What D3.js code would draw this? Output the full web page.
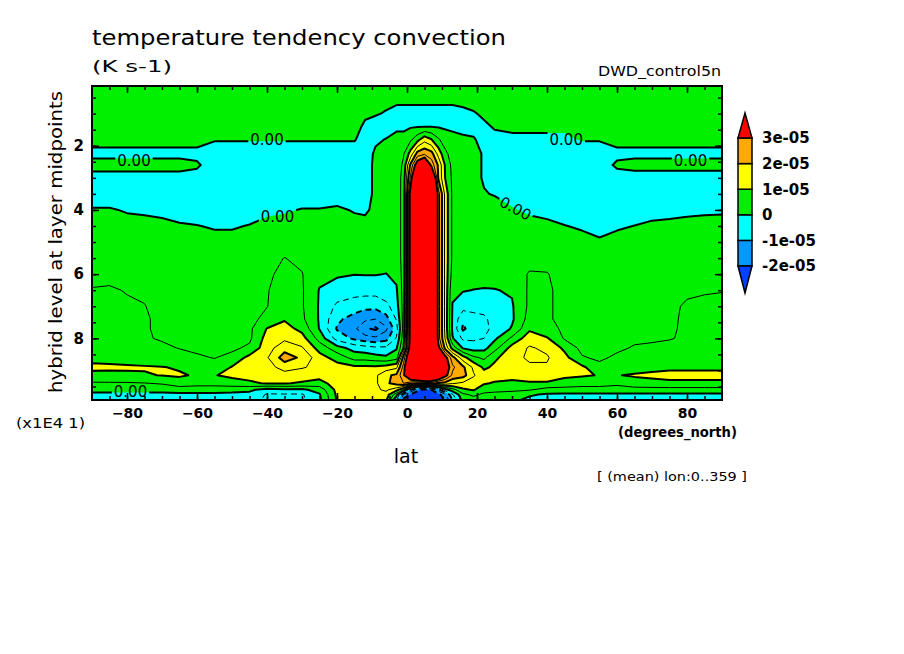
<!DOCTYPE html>
<html lang="en">
<head>
<meta charset="UTF-8">
<title>temperature tendency convection</title>
<script src="https://d3js.org/d3.v7.min.js"></script>
<style>
  body { margin: 0; background: #fff; }
  text { font-family: "DejaVu Sans", sans-serif; fill: #000; }
</style>
</head>
<body>
<svg width="904" height="654"></svg>
<script>

// grid, values in 1e-6 K s-1
const lats = [-90, -85, -80, -75, -70, -65, -60, -55, -50, -45, -40, -35, -30, -25, -20,
              -15, -12, -9, -6, -3, -1, 1, 3, 5, 7, 9, 11, 13, 16, 19,
              22, 25, 30, 35, 40, 45, 50, 55, 60, 65, 70, 75, 80, 85, 90];
const levels = [0.14, 0.6, 1.0, 1.4, 1.8, 2.25, 2.6, 3.0, 3.5, 4.0, 4.5, 5.0, 5.5, 6.0,
                6.5, 7.0, 7.4, 7.7, 8.0, 8.3, 8.6, 8.9, 9.15, 9.4, 9.6, 9.75, 9.92];

const tendency = [
  [2,2,2,2,2, 2,2,2,2,2, 2,2,2,2,2, 2,2,2,2,2, 2,2,2,2,2, 2,2,2,2,2, 2,2,2,2,2, 2,2,2,2,2, 2,2,2,2,2],
  [2,2,2,2,2, 2,2,2,2,2, 2,2,2,2,2, 2,2,2,1.5,1, 1,1,1,1,1, 1,1,1,1.5,2, 2,2,2,2,2, 2,2,2,2,2, 2,2,2,2,2],
  [2,2,2,2,2, 2,2,2,2,2, 2,2,2,2,2, 2,1,0.5,-0.5,-2, -2,-2,-2,-2,-2, -2,-2,-2,-1.5,-0.5, 1,2,2,2,2, 2,2,2,2,2, 2,2,2,2,2],
  [2,2,2,2,2, 2,2,2,2,2, 2,2,2,2,2, 2,-1,-2.5,-3,-1, -1,-0.5,-0.3,-0.2,-0.3, -0.5,-0.8,-1,-1.5,-2, -1,0.5,1,1,1, 1,2,2,2,2, 2,2,2,2,2],
  [2,2,2,2,2, 2,2,0.5,0.5,0.5, 0.5,0.5,0.5,0.5,0.5, 0.5,-3,-1,0.2,1.5, 1.5,4,8,13,10, 5.5,2.5,1.5,0.8,0.5, -2,-1.5,-1,-1,-1, -1,0.5,0.5,2,2, 2,2,2,2,2],
  [-1.5,-1.5,-1.5,-1.5,-1.5, -1.5,-1.5,-3,-3,-3, -3,-3,-3,-3,-3, -3,-3,1,2,2, 4.5,12,22,24,22, 13,6,3,2,1.5, -0.5,-3,-3,-3,-3, -3,-3,-3,-1.5,-1.5, -1.5,-1.5,-1.5,-1.5,-1.5],
  [2,2,2,2,2, 2,0.8,-3,-3,-3, -3,-3,-3,-3,-3, -3,-3,1.5,2,2, 6,21,35,42,28, 19,9,3.5,2,1.5, -0.5,-3,-3,-3,-3, -3,-3,-3,1,2, 2,2,2,2,2],
  [-2,-2,-2,-2,-2, -2,-2,-3,-3,-3, -3,-3,-3,-3,-3, -3,-3,1.5,2,2, 7,26,50,60,45, 19,9.5,4,2,1.5, -0.5,-3,-3,-3,-3, -3,-3,-3,-2.5,-2.5, -2.5,-2.5,-2.5,-2.5,-2.5],
  [-3,-3,-3,-3,-3, -3,-3,-3,-3,-3, -3,-3,-3,-3,-3, -3,-3,1.5,2,2, 7,33,60,70,55, 27,13,4,2,1.5, 0.3,-0.3,-2,-3,-3, -3,-3,-3,-3,-3, -3,-3,-3,-3,-3],
  [0.5,0.5,-0.5,-1,-2, -2,-3,-3,-3,-3, -1.5,-0.6,0.3,0.3,1, -0.5,-1,1.5,2,2, 7,33,60,70,55, 27,13,4,2,2, 2,2,0.5,-1,-2, -3,-3,-3,-3,-3, -2,-2,-1.5,-1,-0.8],
  [2,2,2,2,2, 0.5,0.2,-0.6,-0.6,0.3, 2,2,2,2,2, 2,2,2,2,2, 7,33,60,72,55, 27,13,4,2,2, 2,2,2,2,1.5, 0.2,-0.8,-2,-0.8,0.1, 1,1.5,2,2,2],
  [2,2,2,2,2, 2,2,2,2,2, 2,2,2,2,2, 2,2,2,2,2, 7,33,60,72,55, 27,13,4,2,2, 2,2,2,2,2, 2,2,0.8,2,2, 2,2,2,2,2],
  [3,3,3,3,3, 2.5,2.5,2.5,2.5,3, 3.5,5.1,4,2,1.5, 1.5,1.5,1.5,2,2, 7,33,60,72,55, 27,13,4,2.5,2.5, 2.5,2.5,2.5,3,3.5, 3,3,3,3,3, 3,3.5,3.5,3.5,3.5],
  [4,4,4,3.5,3.5, 3,3,3,3,3.5, 4,6.5,5.2,1.5,0.6, 0.1,0.2,0.2,-0.1,1, 7,33,60,72,55, 27,13,3,2,2, 2,2,2,5.5,5.2, 3.5,3,3,3,3.5, 3.5,4,4,4,4],
  [5.2,5.4,4.8,4.5,4, 3.5,3.5,3,3,4, 4.8,6.5,5.5,-0.3,-2, -3,-3,-3,-1.5,-0.5, 7,33,60,72,55, 27,13,1,0.3,-0.1, -0.3,-0.2,0.5,5.8,5.5, 4,3.5,3.5,3.5,4, 4,4.3,4.6,4.8,4.9],
  [6,6,5.5,5.1,4, 3.5,3.5,3.5,3.5,4, 4.9,7,5.5,-0.5,-6, -7.5,-8.5,-8.5,-6.5,-2, 7,33,60,72,55, 27,13,-0.3,-3,-4, -4,-3,-0.5,6,5.5, 4,3.5,3.5,3.5,4, 4,4.5,5.3,5.5,5.6],
  [6.5,6.5,6,5.5,4, 3.5,3.5,3.5,3.5,4, 6,9.5,6,-0.5,-9, -12,-14,-15,-12,-4.5, 7,33,60,72,55, 27,13,-0.8,-9,-6, -5.5,-4,-0.8,7,5.5, 4,3.5,3.5,3.5,4, 4,4.5,5.5,5.5,5.8],
  [7,7,6.5,5.5,4, 4,3.5,3.5,3.5,4, 10.2,12,8.5,-0.3,-10.5, -14,-19,-21,-16,-7, 7,33,60,72,55, 27,13,-1,-11,-7, -6,-4,0.5,9,6, 4.5,3.5,3.5,3.5,4, 4,4.6,5.5,5.5,6],
  [7,7,6.5,5.5,4.5, 4,4,4,4,4, 12,14,12,3,-7, -11,-13,-14,-12,-4.5, 8,33,60,72,55, 27,14,0.5,-6,-6, -5,-1,6,13,10.5, 4.5,3.5,3.5,3.5,4, 4.2,4.8,5.5,6,6],
  [7.5,7.5,7,6.5,6, 4.8,4,4,4,6, 13,18,15.5,8,2, -2,-3,-4,-4,-0.5, 10,35,62,74,58, 32,18,8,-0.5,-2, -1.5,3,12,15.5,14, 9,3.5,3.5,4,5.5, 6,6,6.5,6.5,6.5],
  [8,8,7.5,7,6.5, 7,5.7,4.8,6.5,11.5, 14.5,22.5,19,12,8, 3,3,2,1,3, 22,40,70,75,65, 45,32,22,12,6, 4,9,13,16,15.5, 11.5,5.5,4,6,7, 7,7,7,7,7],
  [11.5,11,10.8,10.5,10.2, 9.5,8,7,10.3,12, 13,17,15.5,13.5,12, 11,11,11,12,14, 27,45,65,70,60, 50,35,26,21,14, 9,11,13,14,14.5, 12,11,6.5,8,8, 8.5,9,9,9,9],
  [8,8.5,9,9.5,10.2, 10.5,9.5,9.8,11,12, 12,13,12,12,13, 13,14,14,19,21, 29,40,50,55,50, 42,32,24,22,15.5, 12,12,11.5,12,12, 11,10.5,9.8,9.8,10.5, 11,11.5,11.5,11.5,11.5],
  [4.5,4.5,4.5,4.8,5.5, 8,7,7,8,9, 10.5,10.3,9.5,8,12.5, 13,14,14,19,22, 25,22,19.5,22,22, 19,18,15.5,14,13, 10.5,9.5,9,9.5,9.5, 8,7,7,6,8, 8.5,9,9,9,9],
  [1.5,1.5,1.5,1.5,1.5, 2,2,2,1.5,1, -2,-1,-1,2,11.5, 12.5,13,14,16,12, 5,-10,-18,-22,-19.5, -12,-2,3,9,10.5, 7,6,6,5.5,3, 3,3,3,3,3, 3,3,3,3,3],
  [-1,-1,-1,-1,-1, -1,-1,-1,-1,-1.5, -5.5,-5.5,-5.5,-0.5,11, 12,12,12,13,2, -15,-20.5,-25,-28,-25, -22,-15.5,-5.5,4,6, 4,4,3,0.5,-0.5, -0.8,-0.8,-0.8,-0.8,-0.8, -0.8,-0.8,-0.8,-0.8,-0.8],
  [-3,-3,-3,-3,-3, -3,-3,-3,-3,-3, -6,-6,-6,-1,10.5, 11,11,11,11,-5, -22,-25,-30,-30,-28, -25,-19,-10,2,3, 2,2,1,-1,-1.5, -2,-2,-2,-2,-2, -2,-2,-2,-2,-2]
];

const fillLevels = [-20, -10, 0, 10, 20, 30];
const fillColors = ["#0040ff", "#0099ff", "#00ffff", "#00f000", "#ffff00", "#ffaa00", "#ff0000"];
const lineLevels = [-20, -15, -10, -5, 0, 5, 10, 15, 20, 25, 30];
const barLabels = ["-2e-05", "-1e-05", "0", "1e-05", "2e-05", "3e-05"];
const latTicks = [-80, -60, -40, -20, 0, 20, 40, 60, 80];
const levTicks = [2, 4, 6, 8];
// [lat, level, text, angle]
const lineLabels = [
  [-40, 1.8, "0.00", 0],
  [-78, 2.45, "0.00", 0],
  [-37, 4.2, "0.00", 0],
  [45.5, 1.8, "0.00", 0],
  [81, 2.45, "0.00", 0],
  [31, 3.95, "0.00", 28],
  [-79, 9.67, "0.00", 0]
];

const svg = d3.select("svg");
const x = d3.scaleLinear().domain([-90, 90]).range([92, 722]);
const y = d3.scaleLinear().domain([0.14, 9.92]).range([86, 400]);

const nx = lats.length, ny = levels.length;
const colLat = d3.scaleLinear().domain(d3.range(nx)).range(lats).clamp(true);
const rowLev = d3.scaleLinear().domain(d3.range(ny)).range(levels).clamp(true);
const values = tendency.flat();

// contour grid coords -> screen
const toScreen = d3.geoTransform({
  point(gx, gy) { this.stream.point(x(colLat(gx - 0.5)), y(rowLev(gy - 0.5))); }
});
const path = d3.geoPath(toScreen);
const contours = d3.contours().size([nx, ny]);

const defs = svg.append("defs");
defs.append("clipPath").attr("id", "plot-clip")
  .append("rect")
  .attr("x", x(-90)).attr("y", y(0.14))
  .attr("width", x(90) - x(-90)).attr("height", y(9.92) - y(0.14));
const mask = defs.append("mask").attr("id", "label-gaps")
  .attr("maskUnits", "userSpaceOnUse")
  .attr("x", 0).attr("y", 0).attr("width", 904).attr("height", 654);
mask.append("rect").attr("width", 904).attr("height", 654).attr("fill", "#fff");

const plot = svg.append("g").attr("clip-path", "url(#plot-clip)");
plot.append("rect")
  .attr("x", x(-90)).attr("y", y(0.14))
  .attr("width", x(90) - x(-90)).attr("height", y(9.92) - y(0.14))
  .attr("fill", fillColors[0]);

plot.selectAll("path.band")
  .data(fillLevels)
  .join("path")
  .attr("class", "band")
  .attr("d", t => path(contours.contour(values, t)))
  .attr("fill", (t, i) => fillColors[i + 1]);

plot.append("g")
  .attr("mask", "url(#label-gaps)")
  .selectAll("path")
  .data(lineLevels)
  .join("path")
  .attr("d", t => path(contours.contour(values, t)))
  .attr("fill", "none")
  .attr("stroke", "#000")
  .attr("stroke-width", t => t % 10 === 0 ? 2 : 1)
  .attr("stroke-dasharray", t => t < 0 ? "6,4" : null)
  .attr("stroke-linejoin", "round");

// contour labels, with a gap cut in the lines
const labels = plot.append("g")
  .selectAll("text")
  .data(lineLabels)
  .join("text")
  .attr("transform", d => `translate(${x(d[0])},${y(d[1])}) rotate(${d[3]})`)
  .attr("text-anchor", "middle")
  .attr("dy", "0.36em")
  .attr("font-size", 15)
  .text(d => d[2]);

labels.each(function(d) {
  const b = this.getBBox();
  mask.append("rect")
    .attr("transform", `translate(${x(d[0])},${y(d[1])}) rotate(${d[3]})`)
    .attr("x", b.x - 2).attr("y", b.y + 1)
    .attr("width", b.width + 4).attr("height", b.height - 2)
    .attr("fill", "#000");
});

// axes, ticks pointing inward on all sides
function styleAxis(g, size) {
  g.select(".domain").remove();
  g.selectAll(".tick line").attr("stroke", "#000").attr("stroke-width", 1.5);
  g.attr("font-family", "DejaVu Sans").attr("font-size", size).attr("font-weight", "bold");
}
const minorLat = d3.range(-85, 90, 5);
const minorLev = d3.range(0.5, 10, 0.5);

svg.append("g").attr("transform", "translate(0,400)")
  .call(d3.axisBottom(x).tickValues(latTicks).tickSize(-7).tickPadding(8))
  .call(g => styleAxis(g, 14));
svg.append("g").attr("transform", "translate(0,400)")
  .call(d3.axisBottom(x).tickValues(minorLat).tickSize(-4).tickFormat(""))
  .call(g => styleAxis(g, 14));
svg.append("g").attr("transform", "translate(0,86)")
  .call(d3.axisTop(x).tickValues(latTicks).tickSize(-7).tickFormat(""))
  .call(g => styleAxis(g, 14));
svg.append("g").attr("transform", "translate(0,86)")
  .call(d3.axisTop(x).tickValues(minorLat).tickSize(-4).tickFormat(""))
  .call(g => styleAxis(g, 14));

svg.append("g").attr("transform", "translate(92,0)")
  .call(d3.axisLeft(y).tickValues(levTicks).tickSize(-7).tickPadding(8))
  .call(g => styleAxis(g, 15));
svg.append("g").attr("transform", "translate(92,0)")
  .call(d3.axisLeft(y).tickValues(minorLev).tickSize(-4).tickFormat(""))
  .call(g => styleAxis(g, 15));
svg.append("g").attr("transform", "translate(722,0)")
  .call(d3.axisRight(y).tickValues(levTicks).tickSize(-7).tickFormat(""))
  .call(g => styleAxis(g, 15));
svg.append("g").attr("transform", "translate(722,0)")
  .call(d3.axisRight(y).tickValues(minorLev).tickSize(-4).tickFormat(""))
  .call(g => styleAxis(g, 15));

svg.append("rect")
  .attr("x", x(-90)).attr("y", y(0.14))
  .attr("width", x(90) - x(-90)).attr("height", y(9.92) - y(0.14))
  .attr("fill", "none").attr("stroke", "#000").attr("stroke-width", 2);

// colour bar
const cb = d3.scaleLinear().domain([-20, 30]).range([266, 138]);
const cbX = 738, cbW = 14;
const bar = svg.append("g");
bar.selectAll("rect")
  .data(d3.pairs(fillLevels))
  .join("rect")
  .attr("x", cbX).attr("width", cbW)
  .attr("y", d => cb(d[1])).attr("height", d => cb(d[0]) - cb(d[1]))
  .attr("fill", (d, i) => fillColors[i + 1])
  .attr("stroke", "#000").attr("stroke-width", 1.5);
bar.append("path")
  .attr("d", `M${cbX},${cb(30)}L${cbX + cbW / 2},113L${cbX + cbW},${cb(30)}Z`)
  .attr("fill", fillColors[6]).attr("stroke", "#000").attr("stroke-width", 1.5);
bar.append("path")
  .attr("d", `M${cbX},${cb(-20)}L${cbX + cbW / 2},293L${cbX + cbW},${cb(-20)}Z`)
  .attr("fill", fillColors[0]).attr("stroke", "#000").attr("stroke-width", 1.5);
bar.selectAll("text")
  .data(fillLevels)
  .join("text")
  .attr("x", 762)
  .attr("y", d => cb(d))
  .attr("dy", "0.36em")
  .attr("font-size", 15)
  .attr("font-weight", "bold")
  .text((d, i) => barLabels[i]);

// titles and axis names
svg.append("text").attr("x", 92).attr("y", 45).attr("font-size", 22)
  .attr("textLength", 414).attr("lengthAdjust", "spacingAndGlyphs")
  .text("temperature tendency convection");
svg.append("text").attr("x", 92).attr("y", 72).attr("font-size", 16)
  .attr("textLength", 80).attr("lengthAdjust", "spacingAndGlyphs")
  .text("(K s-1)");
svg.append("text").attr("x", 721).attr("y", 76).attr("font-size", 14)
  .attr("text-anchor", "end")
  .attr("textLength", 123).attr("lengthAdjust", "spacingAndGlyphs")
  .text("DWD_control5n");
svg.append("text").attr("transform", "translate(62,242) rotate(-90)")
  .attr("text-anchor", "middle").attr("font-size", 17)
  .attr("textLength", 302).attr("lengthAdjust", "spacingAndGlyphs")
  .text("hybrid level at layer midpoints");
svg.append("text").attr("x", 16).attr("y", 428).attr("font-size", 14)
  .attr("textLength", 69).attr("lengthAdjust", "spacingAndGlyphs")
  .text("(x1E4 1)");
svg.append("text").attr("x", 406).attr("y", 463).attr("font-size", 19)
  .attr("text-anchor", "middle")
  .text("lat");
svg.append("text").attr("x", 618).attr("y", 437).attr("font-size", 14)
  .attr("font-weight", "bold")
  .attr("textLength", 119).attr("lengthAdjust", "spacingAndGlyphs")
  .text("(degrees_north)");
svg.append("text").attr("x", 597).attr("y", 481).attr("font-size", 13)
  .attr("textLength", 150).attr("lengthAdjust", "spacingAndGlyphs")
  .text("[ (mean) lon:0..359 ]");

</script>
</body>
</html>
